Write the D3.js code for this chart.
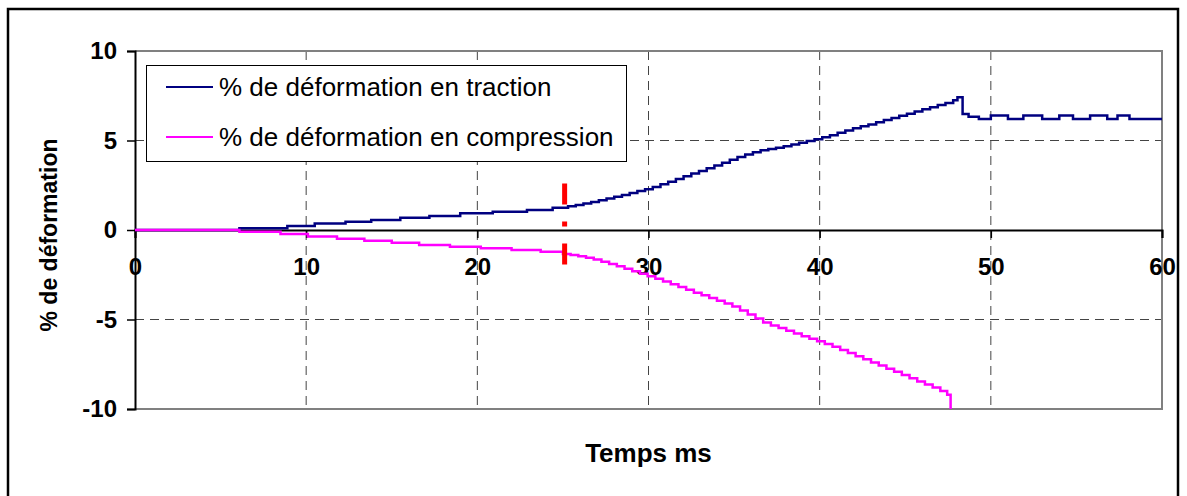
<!DOCTYPE html>
<html>
<head>
<meta charset="utf-8">
<script src="https://cdn.jsdelivr.net/npm/d3@7"></script>
<style>
  html, body { margin: 0; padding: 0; background: #fff; }
  svg { display: block; font-family: Arial, "Liberation Sans", sans-serif; }
</style>
</head>
<body>
<svg id="chart" width="1187" height="496"></svg>
<script>
// --- data (ms, %) ---
const tractionTime = [0, 6.1, 8.9, 10.5, 12.3, 13.8, 15.5, 17.2, 19.0, 20.9, 22.9, 24.4,
  25.3, 25.75, 26.2, 26.65, 27.1, 27.55, 28.0, 28.45, 28.9, 29.35, 29.8, 30.25, 30.7, 31.15, 31.6,
  32.05, 32.5, 32.95, 33.4, 33.85, 34.3, 34.75, 35.2, 35.65, 36.1, 36.55, 37.0, 37.45, 37.9, 38.35,
  38.8, 39.25, 39.7, 40.15, 40.6, 41.05, 41.5, 41.95, 42.4, 42.85, 43.3, 43.75, 44.2, 44.65, 45.1,
  45.55, 46.0, 46.45, 46.9, 47.35, 47.8, 48.05,
  48.35, 48.7, 49.3, 50.0, 51.0, 51.9, 53.0, 54.0, 54.8, 55.8, 56.8, 57.4, 58.1, 60.0];
const tractionValue = [0, 0.1, 0.22, 0.37, 0.46, 0.56, 0.69, 0.78, 0.93, 1.02, 1.12, 1.25,
  1.33, 1.4, 1.48, 1.57, 1.66, 1.76, 1.86, 1.96, 2.07, 2.18, 2.28, 2.4, 2.55, 2.7, 2.85,
  3.0, 3.15, 3.3, 3.45, 3.6, 3.76, 3.92, 4.08, 4.22, 4.35, 4.45, 4.53, 4.6, 4.68, 4.77,
  4.87, 4.97, 5.07, 5.18, 5.3, 5.43, 5.56, 5.69, 5.8, 5.9, 6.02, 6.14, 6.26, 6.38, 6.5,
  6.62, 6.74, 6.86, 6.98, 7.1, 7.25, 7.42,
  6.48, 6.33, 6.2, 6.39, 6.2, 6.39, 6.2, 6.39, 6.2, 6.39, 6.2, 6.39, 6.2, 6.2];

const compressionTime = [0, 6.1, 8.5, 10.1, 11.8, 13.4, 15.0, 16.6, 18.4, 20.2, 22.0, 23.7,
  25.0, 25.45, 25.9, 26.35, 26.8, 27.25, 27.7, 28.15, 28.6, 29.05, 29.5, 29.95, 30.4, 30.85, 31.3,
  31.75, 32.2, 32.65, 33.1, 33.55, 34.0, 34.45, 34.9, 35.35, 35.8, 36.25, 36.7, 37.15, 37.6, 38.05,
  38.5, 38.95, 39.4, 39.85, 40.3, 40.75, 41.2, 41.65, 42.1, 42.55, 43.0, 43.45, 43.9, 44.35, 44.8,
  45.25, 45.7, 46.15, 46.6, 47.05, 47.45, 47.65];
const compressionValue = [0, -0.1, -0.22, -0.37, -0.49, -0.6, -0.71, -0.84, -0.93, -1.02, -1.12, -1.21,
  -1.34, -1.4, -1.47, -1.55, -1.65, -1.78, -1.9, -2.03, -2.17, -2.3, -2.44, -2.58, -2.73, -2.88, -3.03,
  -3.18, -3.34, -3.5, -3.65, -3.8, -3.95, -4.1, -4.28, -4.5, -4.72, -4.95, -5.17, -5.33, -5.48, -5.63,
  -5.78, -5.93, -6.08, -6.22, -6.37, -6.52, -6.7, -6.87, -7.05, -7.22, -7.4, -7.57, -7.75, -7.92, -8.1,
  -8.28, -8.46, -8.63, -8.8, -9.0, -9.2, -10];

const seriesNames = ['% de déformation en traction', '% de déformation en compression'];
const seriesColors = ['#000080', '#ff00ff'];

const xTicks = [0, 10, 20, 30, 40, 50, 60];
const yTicks = [10, 5, 0, -5, -10];
const xGrid = [10, 20, 30, 40, 50];
const yGrid = [5, -5];

const markerTime = 25.1;          // red dash-dot marker
const markerRange = [2.6, -2.85];

const xTitle = 'Temps ms';
const yTitle = '% de déformation';

// --- layout ---
const svg = d3.select('#chart');
const plot = { left: 135, right: 1162, top: 51, bottom: 409 };

const x = d3.scaleLinear().domain([0, 60]).range([plot.left, plot.right]);
const y = d3.scaleLinear().domain([-10, 10]).range([plot.bottom, plot.top]);

// outer frame
svg.append('rect')
  .attr('x', 8).attr('y', 9).attr('width', 1170).attr('height', 500)
  .attr('fill', 'none').attr('stroke', '#000').attr('stroke-width', 2.5);

// gridlines
svg.append('g').selectAll('line').data(xGrid).join('line')
  .attr('x1', d => x(d)).attr('x2', d => x(d))
  .attr('y1', plot.top).attr('y2', plot.bottom)
  .attr('stroke', '#444').attr('stroke-width', 1).attr('stroke-dasharray', '9,6');
svg.append('g').selectAll('line').data(yGrid).join('line')
  .attr('x1', plot.left).attr('x2', plot.right)
  .attr('y1', d => y(d)).attr('y2', d => y(d))
  .attr('stroke', '#444').attr('stroke-width', 1).attr('stroke-dasharray', '9,6');

// plot area border (gray top, right, bottom)
svg.append('path')
  .attr('d', `M${plot.left},${plot.top}H${plot.right}V${plot.bottom}H${plot.left}`)
  .attr('fill', 'none').attr('stroke', '#808080').attr('stroke-width', 2);

const plain = d => String(d); // hyphen minus like the original

// y axis
const yAxis = svg.append('g')
  .attr('transform', `translate(${plot.left},0)`)
  .call(d3.axisLeft(y).tickValues(yTicks).tickSize(8).tickPadding(10).tickFormat(plain));
yAxis.select('.domain').attr('stroke', '#000').attr('stroke-width', 2);
yAxis.selectAll('.tick line').attr('stroke', '#000').attr('stroke-width', 1.5);
yAxis.selectAll('.tick text')
  .attr('font-size', 24).attr('font-weight', 'bold').attr('fill', '#000')
  .attr('font-family', 'Arial, "Liberation Sans", sans-serif');

// x axis at y = 0
const xAxis = svg.append('g')
  .attr('transform', `translate(0,${y(0)})`)
  .call(d3.axisBottom(x).tickValues(xTicks).tickSize(8).tickPadding(20).tickFormat(plain));
xAxis.select('.domain').attr('stroke', '#000').attr('stroke-width', 2);
xAxis.selectAll('.tick line').attr('stroke', '#000').attr('stroke-width', 1.5);
xAxis.selectAll('.tick text')
  .attr('font-size', 24).attr('font-weight', 'bold').attr('fill', '#000')
  .attr('font-family', 'Arial, "Liberation Sans", sans-serif');

// series
const line = d3.line().x(d => x(d[0])).y(d => y(d[1])).curve(d3.curveStepAfter);
const tractionData = d3.zip(tractionTime, tractionValue);
const compressionData = d3.zip(compressionTime, compressionValue);

svg.append('path').datum(tractionData)
  .attr('d', line).attr('fill', 'none')
  .attr('stroke', seriesColors[0]).attr('stroke-width', 2.5).attr('stroke-linejoin', 'miter');
svg.append('path').datum(compressionData)
  .attr('d', line).attr('fill', 'none')
  .attr('stroke', seriesColors[1]).attr('stroke-width', 2.5).attr('stroke-linejoin', 'miter');

// red marker
svg.append('line')
  .attr('x1', x(markerTime)).attr('x2', x(markerTime))
  .attr('y1', y(markerRange[0])).attr('y2', y(markerRange[1]))
  .attr('stroke', '#ff0000').attr('stroke-width', 5).attr('stroke-dasharray', '21,17,5,17');

// legend
const legend = svg.append('g');
legend.append('rect')
  .attr('x', 146.5).attr('y', 65.5).attr('width', 480).attr('height', 96)
  .attr('fill', '#fff').attr('stroke', '#000').attr('stroke-width', 1);
seriesNames.forEach((name, i) => {
  const ly = 87 + i * 50;
  legend.append('line')
    .attr('x1', 166).attr('x2', 213).attr('y1', ly).attr('y2', ly)
    .attr('stroke', seriesColors[i]).attr('stroke-width', 2);
  legend.append('text')
    .attr('x', 219).attr('y', ly + 9)
    .attr('font-size', 26).attr('fill', '#000')
    .text(name);
});

// axis titles
svg.append('text')
  .attr('x', (plot.left + plot.right) / 2).attr('y', 462)
  .attr('text-anchor', 'middle').attr('font-size', 26).attr('font-weight', 'bold')
  .text(xTitle);
svg.append('text')
  .attr('transform', `translate(57,${(plot.top + plot.bottom) / 2 + 5}) rotate(-90)`)
  .attr('text-anchor', 'middle').attr('font-size', 23).attr('font-weight', 'bold')
  .text(yTitle);
</script>
</body>
</html>
